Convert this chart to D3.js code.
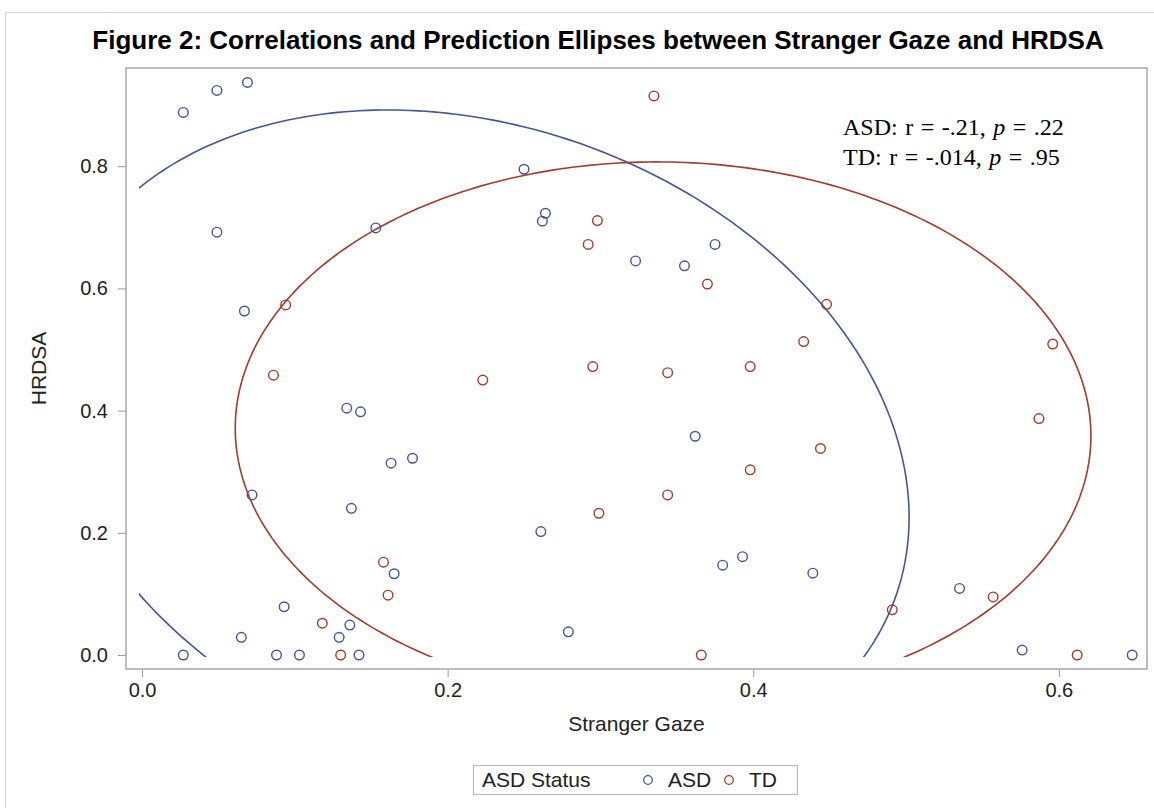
<!DOCTYPE html>
<html>
<head>
<meta charset="utf-8">
<script src="https://cdn.jsdelivr.net/npm/d3@7"></script>
<style>
  body { margin: 0; background: #fff; }
  text { font-family: "Liberation Sans", Arial, sans-serif; }
</style>
</head>
<body>
<script>
// ASD group: [Stranger Gaze, HRDSA]
var asdPoints = [
    [0.027, 0.888], [0.049, 0.924], [0.069, 0.937], [0.049, 0.692], [0.153, 0.699],
    [0.067, 0.563], [0.250, 0.795], [0.264, 0.723], [0.262, 0.710], [0.323, 0.645],
    [0.355, 0.637], [0.375, 0.672], [0.362, 0.358], [0.134, 0.404], [0.143, 0.398],
    [0.163, 0.314], [0.177, 0.322], [0.072, 0.262], [0.137, 0.240], [0.261, 0.202],
    [0.165, 0.133], [0.380, 0.147], [0.393, 0.161], [0.439, 0.134], [0.535, 0.109],
    [0.576, 0.008], [0.648, 0.000], [0.279, 0.038], [0.065, 0.029], [0.093, 0.079],
    [0.027, 0.000], [0.088, 0.000], [0.103, 0.000], [0.129, 0.029], [0.136, 0.049],
    [0.142, 0.000]
];
// TD group
var tdPoints = [
    [0.094, 0.573], [0.086, 0.458], [0.223, 0.450], [0.158, 0.152], [0.161, 0.098],
    [0.118, 0.052], [0.130, 0.000], [0.298, 0.711], [0.292, 0.672], [0.370, 0.607],
    [0.448, 0.574], [0.433, 0.513], [0.295, 0.472], [0.344, 0.462], [0.398, 0.472],
    [0.444, 0.338], [0.398, 0.303], [0.344, 0.262], [0.299, 0.232], [0.366, 0.000],
    [0.491, 0.074], [0.557, 0.095], [0.587, 0.387], [0.596, 0.509], [0.612, 0.000],
    [0.335, 0.915]
];
// prediction ellipses: centre, half-extent in x and y, correlation
var asdEllipse = {mx: 0.220, my: 0.341, kx: 0.282, ky: 0.551, r: -0.21};
var tdEllipse = {mx: 0.341, my: 0.365, kx: 0.280, ky: 0.442, r: -0.014};

var xTicks = [0.0, 0.2, 0.4, 0.6];
var yTicks = [0.0, 0.2, 0.4, 0.6, 0.8];
var groups = ['ASD', 'TD'];
var statLines = [
    {lead: 'ASD: r = -.21, ', p: '.22'},
    {lead: 'TD: r = -.014, ', p: '.95'}
];

var color = d3.scaleOrdinal()
    .domain(groups)
    .range(['#445694', '#A23A2E']);

var margin = {top: 68, right: 7, bottom: 139, left: 126},
    width = 1154 - margin.left - margin.right,
    height = 808 - margin.top - margin.bottom;

var svg = d3.select('body')
    .append('svg')
    .attr('width', 1154)
    .attr('height', 808);

// outer frame
svg.append('rect')
    .attr('x', 5.5).attr('y', 12.5)
    .attr('width', 1160).attr('height', 820)
    .attr('fill', 'none')
    .attr('stroke', '#d8d8d8');

svg.append('text')
    .attr('x', 598)
    .attr('y', 49)
    .attr('text-anchor', 'middle')
    .attr('font-size', 26)
    .attr('font-weight', 'bold')
    .attr('fill', '#000')
    .text('Figure 2: Correlations and Prediction Ellipses between Stranger Gaze and HRDSA');

var canvas = svg.append('g')
    .attr('transform', 'translate(' + margin.left + ',' + margin.top + ')');

var x = d3.scaleLinear().domain([-0.0105, 0.6577]).range([0, width]);
var y = d3.scaleLinear().domain([-0.0229, 0.9607]).range([height, 0]);

// axes
var xAxis = canvas.append('g')
    .attr('transform', 'translate(0,' + height + ')')
    .call(d3.axisBottom(x).tickValues(xTicks).tickFormat(d3.format('.1f')).tickSize(8).tickPadding(6));
var yAxis = canvas.append('g')
    .call(d3.axisLeft(y).tickValues(yTicks).tickFormat(d3.format('.1f')).tickSize(8).tickPadding(10));
[xAxis, yAxis].forEach(function (a) {
    a.select('.domain').remove();
    a.selectAll('line').attr('stroke', '#9a9a9a');
    a.selectAll('text').attr('font-size', 20).attr('fill', '#222')
        .attr('font-family', '"Liberation Sans", Arial, sans-serif');
});

canvas.append('rect')
    .attr('width', width).attr('height', height)
    .attr('fill', 'none')
    .attr('stroke', '#a8a8a8')
    .attr('stroke-width', 1.5);

canvas.append('text')
    .attr('x', width / 2)
    .attr('y', height + 62)
    .attr('text-anchor', 'middle')
    .attr('font-size', 21)
    .attr('fill', '#222')
    .text('Stranger Gaze');

canvas.append('text')
    .attr('transform', 'translate(-80,' + (height / 2) + ') rotate(-90)')
    .attr('text-anchor', 'middle')
    .attr('font-size', 21)
    .attr('fill', '#222')
    .text('HRDSA');

// clip ellipses to the data range
canvas.append('clipPath')
    .attr('id', 'dataClip')
    .append('rect')
    .attr('x', x(0) - 3).attr('y', 0)
    .attr('width', width - x(0) + 3).attr('height', y(0) + 2);

function ellipsePoints(e) {
    var pts = [];
    var s = Math.sqrt(1 - e.r * e.r);
    for (var i = 0; i <= 360; i++) {
        var t = i * Math.PI / 180;
        pts.push([e.mx + e.kx * Math.cos(t), e.my + e.ky * (e.r * Math.cos(t) + s * Math.sin(t))]);
    }
    return pts;
}

var line = d3.line()
    .x(function (d) { return x(d[0]); })
    .y(function (d) { return y(d[1]); });

canvas.append('g')
    .attr('clip-path', 'url(#dataClip)')
    .selectAll('path')
    .data([{g: 'ASD', e: asdEllipse}, {g: 'TD', e: tdEllipse}])
    .enter()
    .append('path')
    .attr('d', function (d) { return line(ellipsePoints(d.e)); })
    .attr('fill', 'none')
    .attr('stroke', function (d) { return color(d.g); })
    .attr('stroke-width', 1.6);

// markers
[['ASD', asdPoints], ['TD', tdPoints]].forEach(function (g) {
    canvas.append('g')
        .selectAll('circle')
        .data(g[1])
        .enter()
        .append('circle')
        .attr('cx', function (d) { return x(d[0]); })
        .attr('cy', function (d) { return y(d[1]); })
        .attr('r', 4.8)
        .attr('fill', 'none')
        .attr('stroke', color(g[0]))
        .attr('stroke-width', 1.4);
});

// correlation annotation
var stat = canvas.append('g')
    .attr('font-size', 24)
    .attr('fill', '#000');
statLines.forEach(function (s, i) {
    var t = stat.append('text')
        .attr('x', 717)
        .attr('y', 67 + i * 30)
        .attr('word-spacing', 1.5)
        .attr('font-family', '"Liberation Serif", "Times New Roman", serif');
    t.append('tspan').attr('font-family', '"Liberation Serif", serif').text(s.lead);
    t.append('tspan').attr('font-family', '"Liberation Serif", serif').attr('font-style', 'italic').text('p');
    t.append('tspan').attr('font-family', '"Liberation Serif", serif').text(' = ' + s.p);
});

// legend
var legend = svg.append('g');
legend.append('rect')
    .attr('x', 473.5).attr('y', 765.5)
    .attr('width', 324).attr('height', 29)
    .attr('fill', '#fff')
    .attr('stroke', '#b8b8b8');
legend.append('text')
    .attr('x', 482).attr('y', 787)
    .attr('font-size', 21).attr('fill', '#222')
    .text('ASD Status');
var lx = [648, 729];
groups.forEach(function (g, i) {
    legend.append('circle')
        .attr('cx', lx[i]).attr('cy', 780)
        .attr('r', 4.3)
        .attr('fill', 'none')
        .attr('stroke', color(g))
        .attr('stroke-width', 1.3);
    legend.append('text')
        .attr('x', lx[i] + 20).attr('y', 787)
        .attr('font-size', 21).attr('fill', '#222')
        .text(g);
});
</script>
</body>
</html>
